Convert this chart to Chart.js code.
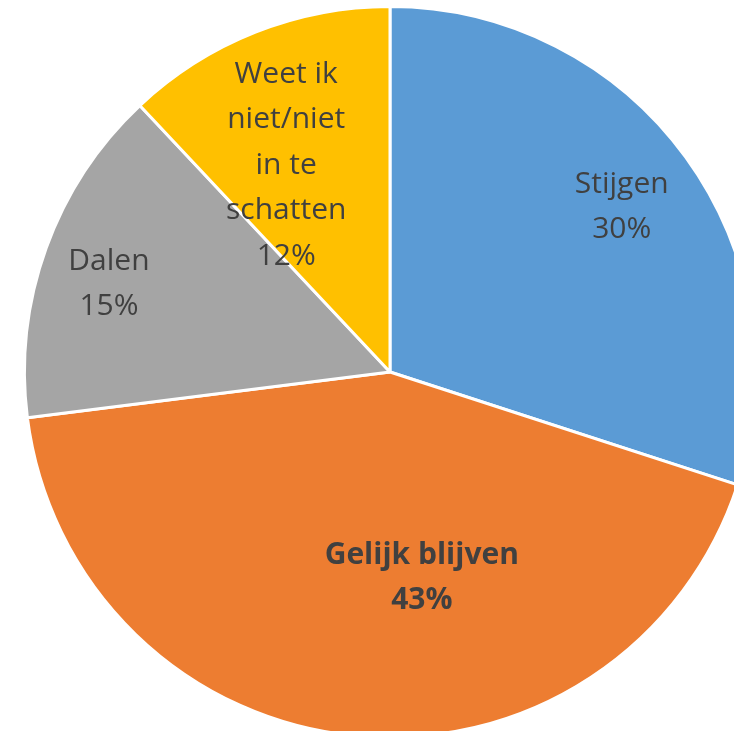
<!DOCTYPE html>
<html>
<head>
<meta charset="utf-8">
<script src="https://cdn.jsdelivr.net/npm/chart.js@4"></script>
<style>
html,body{margin:0;padding:0;background:#fff;overflow:hidden;width:734px;height:731px;}
#wrap{position:relative;width:780px;height:744px;}
</style>
</head>
<body>
<div id="wrap"><canvas id="c" width="780" height="744"></canvas></div>
<script>
const categories = ["Stijgen", "Gelijk blijven", "Dalen", "Weet ik niet/niet in te schatten"];
const values = [30, 43, 15, 12];
const colors = ["#5B9BD5", "#ED7D31", "#A5A5A5", "#FFC000"];
const labelLines = [["Stijgen", "30%"], ["Gelijk blijven", "43%"], ["Dalen", "15%"], ["Weet ik", "niet/niet", "in te", "schatten", "12%"]];
const labelBold = [false, true, false, false];
// label offsets relative to pie centre, as fraction of radius
const labelOffsets = [[0.634, -0.452], [0.087, 0.563], [-0.769, -0.241], [-0.284, -0.566]];

const labelPlugin = {
  id: 'sliceLabels',
  afterDatasetsDraw(chart) {
    const ctx = chart.ctx;
    const meta = chart.getDatasetMeta(0);
    ctx.save();
    ctx.fillStyle = '#404040';
    ctx.textAlign = 'center';
    ctx.textBaseline = 'middle';
    const lh = 45.5;
    meta.data.forEach((arc, i) => {
      const p = arc.getProps(['x', 'y', 'outerRadius'], true);
      const cx = p.x + labelOffsets[i][0] * p.outerRadius;
      const cy = p.y + labelOffsets[i][1] * p.outerRadius;
      ctx.font = (labelBold[i] ? 'bold ' : '') + '30px "Open Sans", sans-serif';
      const lines = labelLines[i];
      const y0 = cy - (lines.length - 1) * lh / 2;
      lines.forEach((t, k) => ctx.fillText(t, cx, y0 + k * lh));
    });
    ctx.restore();
  }
};

new Chart(document.getElementById('c'), {
  type: 'pie',
  data: {
    labels: categories,
    datasets: [{
      data: values,
      backgroundColor: colors,
      borderColor: '#ffffff',
      borderWidth: 3
    }]
  },
  options: {
    responsive: false,
    animation: false,
    layout: { padding: { left: 5, right: 5, top: 5, bottom: 5 } },
    plugins: { legend: { display: false }, tooltip: { enabled: false } }
  },
  plugins: [labelPlugin]
});
</script>
</body>
</html>
